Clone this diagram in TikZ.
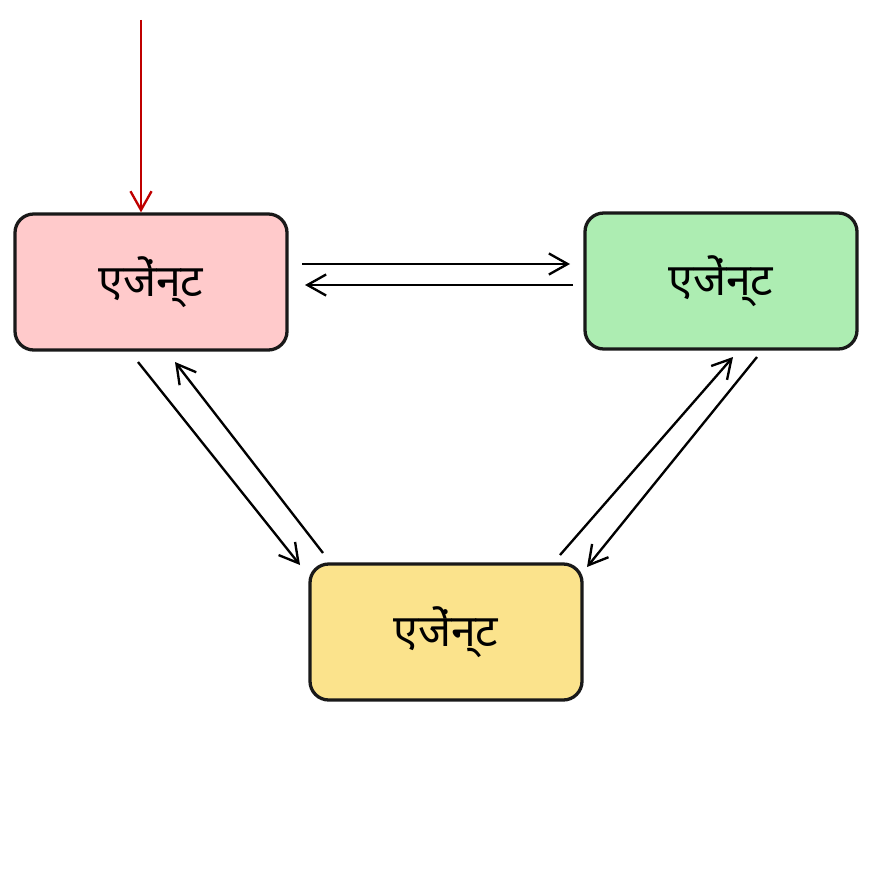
\documentclass[tikz,border=0pt]{standalone}
\usepackage{fontspec}
\setmainfont{Noto Sans}
\usetikzlibrary{arrows.meta}
\definecolor{cr}{HTML}{FFCACB}
\definecolor{cg}{HTML}{ADEDB2}
\definecolor{cy}{HTML}{FBE38C}
\begin{document}
\begin{tikzpicture}[x=0.03cm,y=-0.03cm,
 box/.style={draw=black!90,line width=2.8pt,rounded corners=16pt,minimum width=272*0.03cm,minimum height=136*0.03cm,font=\fontsize{38}{42}\selectfont},
 arr/.style={line width=2pt,-{Straight Barb[length=16pt,width=18pt]}}]
\useasboundingbox (0,0) rectangle (873,873);
\fill[white] (0,0) rectangle (873,873);
\node[box,fill=cr] (a) at (151,282) {एजेंन्ट};
\node[box,fill=cg] (b) at (721,281) {एजेंन्ट};
\node[box,fill=cy] (c) at (446,632) {एजेंन्ट};
\coordinate (s) at (141,20);
\draw[arr,draw=red!75!black] (s) -- (a.north -| s);
\coordinate (h1) at (302,264); \coordinate (h2) at (570,264);
\coordinate (h3) at (573,285); \coordinate (h4) at (305,285);
\draw[arr] (h1) -- (h2);
\draw[arr] (h3) -- (h4);
\coordinate (l1) at (138,362); \coordinate (l2) at (300,565);
\coordinate (l3) at (323,553); \coordinate (l4) at (175,362);
\coordinate (r1) at (560,555); \coordinate (r2) at (733,357);
\coordinate (r3) at (757,357); \coordinate (r4) at (587,567);
\draw[arr] (l1) -- (l2);
\draw[arr] (l3) -- (l4);
\draw[arr] (r1) -- (r2);
\draw[arr] (r3) -- (r4);
\end{tikzpicture}
\end{document}
